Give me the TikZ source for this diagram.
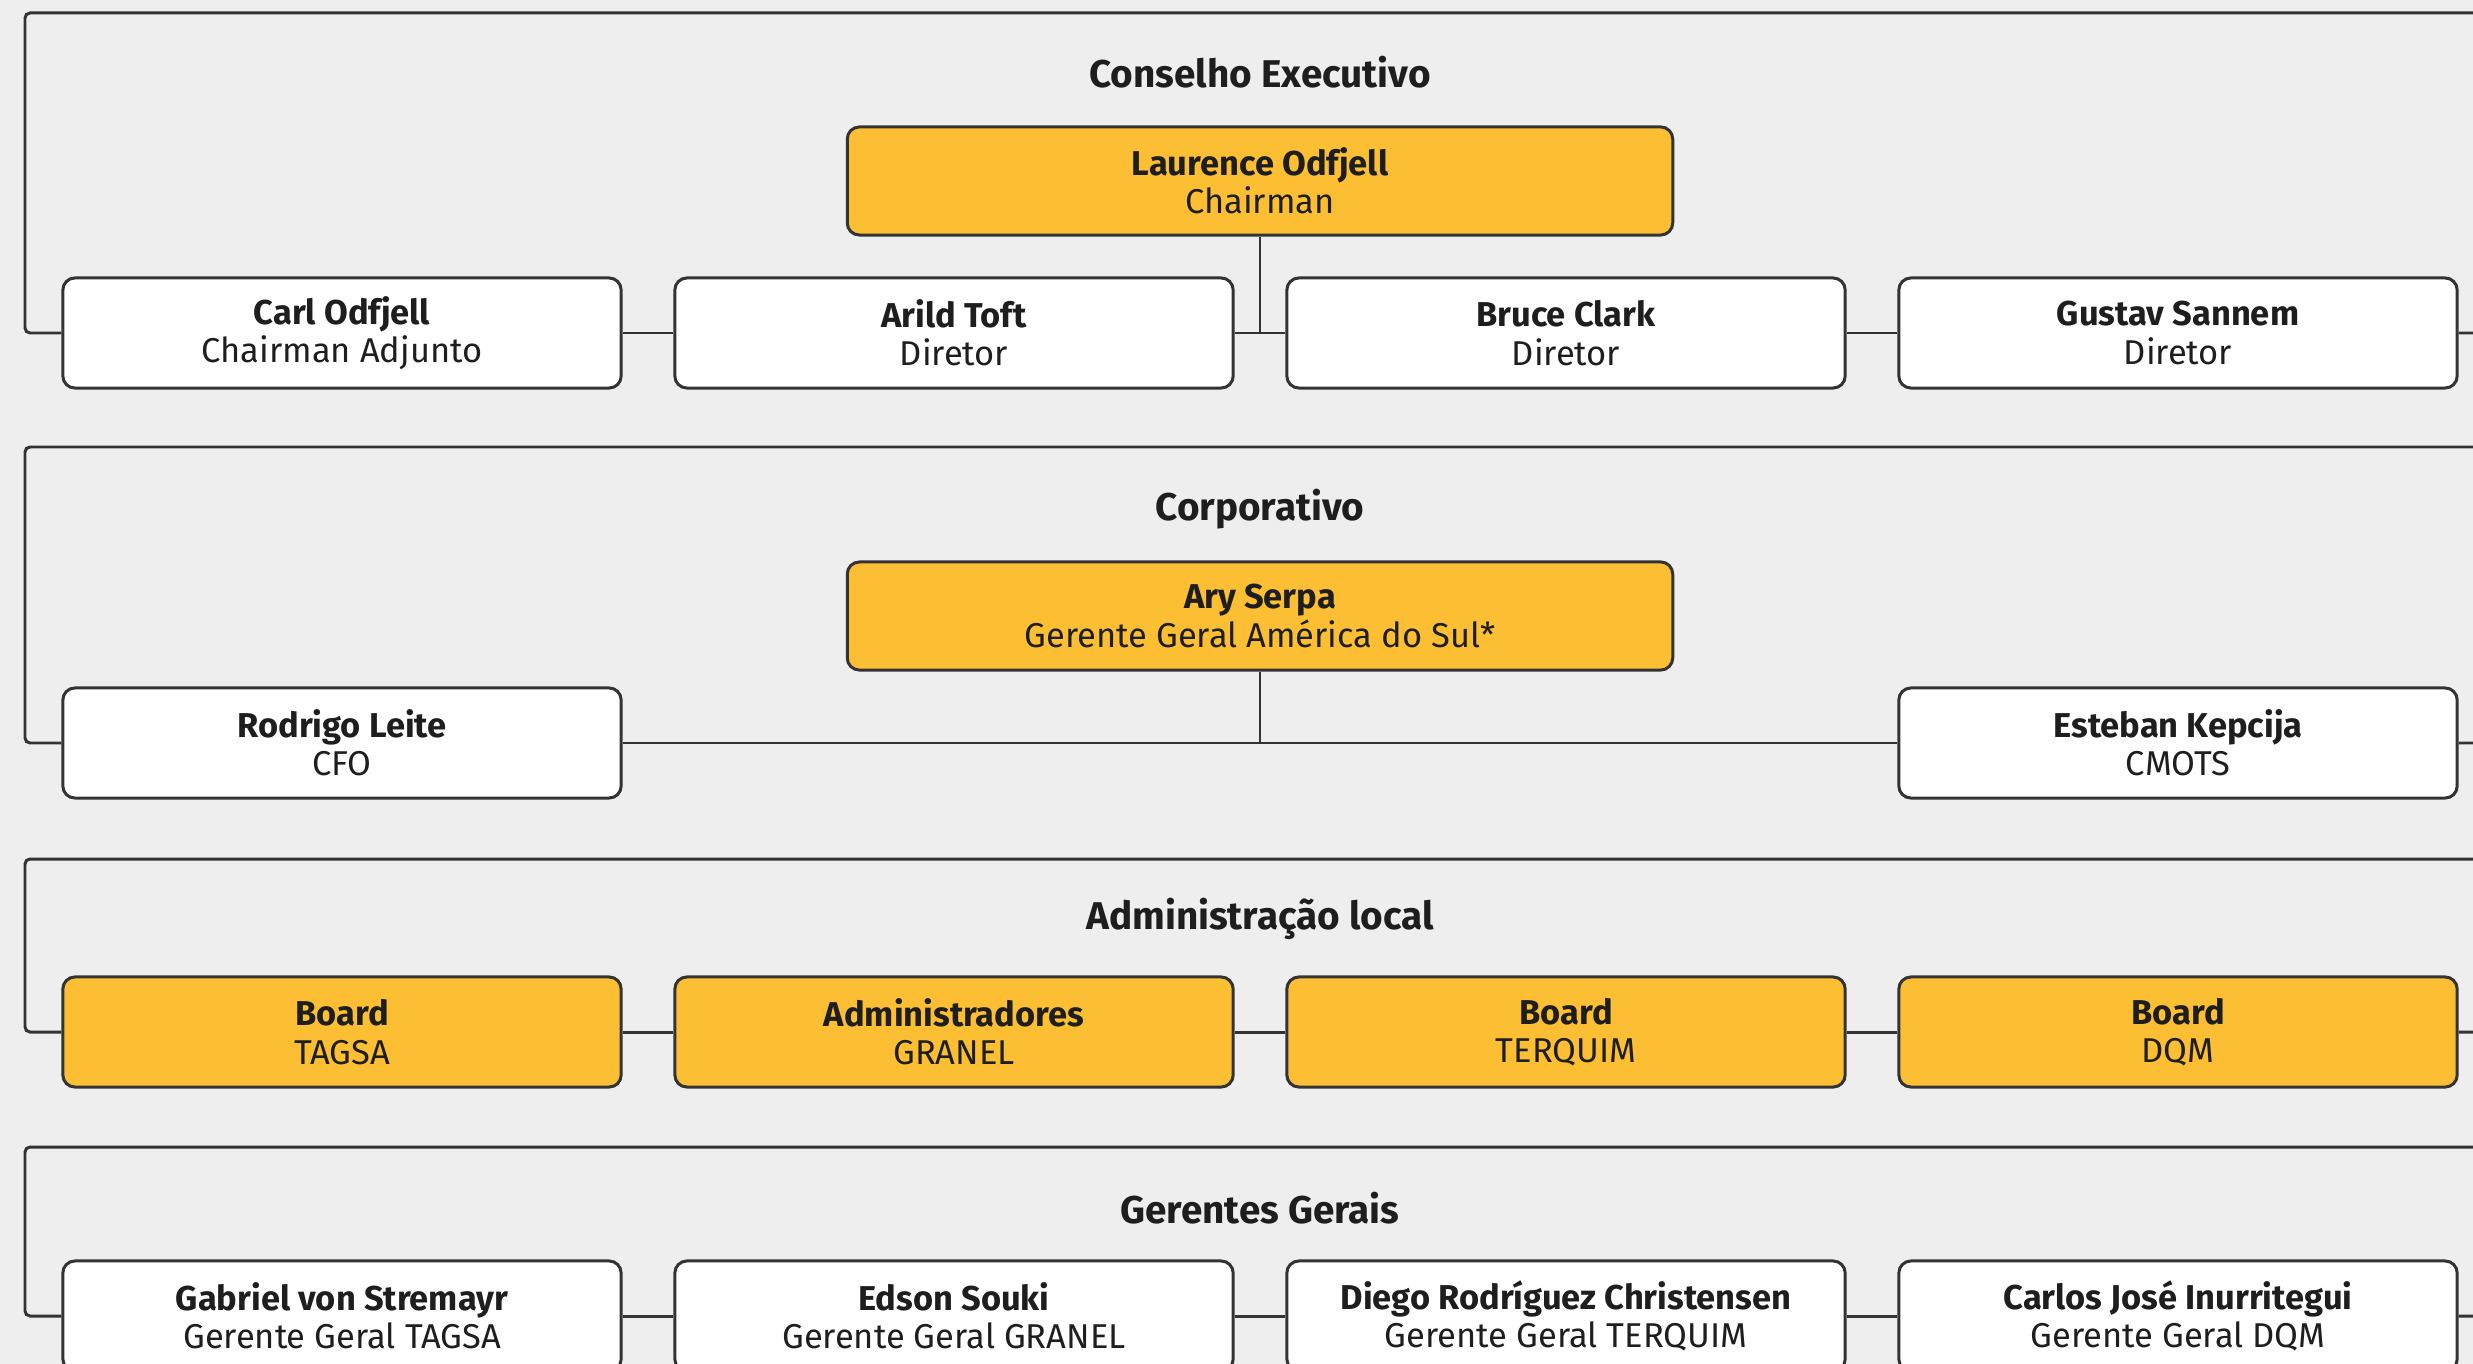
\documentclass[tikz,border=0pt]{standalone}
\usepackage{fontspec}
\setmainfont{Fira Sans}
\definecolor{paper}{HTML}{EEEEEE}
\definecolor{gold}{HTML}{FCBF33}
\definecolor{linec}{HTML}{333333}
\definecolor{ink}{HTML}{1E1E1E}
\newcommand\cardfont{\fontsize{9.8}{10.9}\selectfont}
\newcommand\headfont{\fontsize{11}{12}\selectfont\bfseries}
\begin{document}
\begin{tikzpicture}[x=0.01cm,y=-0.01cm,
  frame/.style={draw=linec, line width=0.85pt, rounded corners=0.05cm},
  link/.style={draw=linec, line width=0.85pt},
  drop/.style={draw=linec, line width=0.6pt},
  card/.style={draw=linec, line width=0.85pt, rounded corners=0.12cm, fill=white,
    minimum width=5.58cm, minimum height=1.10cm, inner sep=0pt, align=center,
    text=ink, font=\cardfont},
  lead/.style={card, fill=gold, minimum width=8.25cm, minimum height=1.08cm},
  goldcard/.style={card, fill=gold},
  heading/.style={font=\headfont, text=ink, inner sep=0pt}
]
\useasboundingbox (0,0) rectangle (2473,1364);
\fill[paper] (0,0) rectangle (2473,1364);
\clip (0,0) rectangle (2473,1364);

% ---------- Conselho Executivo ----------
\coordinate (f1l) at (25,13);
\coordinate (f1r) at (2495,13);
\node[heading] (t1) at (1260,72) {Conselho Executivo};
\node[lead] (laurence) at (1260,181) {\textbf{Laurence Odfjell}\\Chairman};
\node[card] (carl)   at (342,333)  {\textbf{Carl Odfjell}\\Chairman Adjunto};
\node[card] (arild)  at (954,333)  {\textbf{Arild Toft}\\Diretor};
\node[card] (bruce)  at (1566,333) {\textbf{Bruce Clark}\\Diretor};
\node[card] (gustav) at (2178,333) {\textbf{Gustav Sannem}\\Diretor};
\draw[frame] (carl.west) -- (carl.west -| f1l) -- (f1l) -- (f1r) -- (f1r |- gustav.east) -- (gustav.east);
\draw[link] (carl.east) -- (arild.west);
\draw[link] (arild.east) -- (bruce.west);
\draw[link] (bruce.east) -- (gustav.west);
\draw[drop] (laurence.south) -- (laurence.south |- bruce.west);

% ---------- Corporativo ----------
\coordinate (f2l) at (25,447);
\coordinate (f2r) at (2495,447);
\node[heading] (t2) at (1260,509) {Corporativo};
\node[lead] (ary) at (1260,616) {\textbf{Ary Serpa}\\Gerente Geral América do Sul*};
\node[card] (rodrigo) at (342,743)  {\textbf{Rodrigo Leite}\\CFO};
\node[card] (esteban) at (2178,743) {\textbf{Esteban Kepcija}\\CMOTS};
\draw[frame] (rodrigo.west) -- (rodrigo.west -| f2l) -- (f2l) -- (f2r) -- (f2r |- esteban.east) -- (esteban.east);
\draw[link] (rodrigo.east) -- (esteban.west);
\draw[drop] (ary.south) -- (ary.south |- rodrigo.east);

% ---------- Administração local ----------
\coordinate (f3l) at (25,859);
\coordinate (f3r) at (2495,859);
\node[heading] (t3) at (1260,919) {Administração local};
\node[goldcard] (btagsa)  at (342,1032)  {\textbf{Board}\\TAGSA};
\node[goldcard] (agranel) at (954,1032)  {\textbf{Administradores}\\GRANEL};
\node[goldcard] (bterq)   at (1566,1032) {\textbf{Board}\\TERQUIM};
\node[goldcard] (bdqm)    at (2178,1032) {\textbf{Board}\\DQM};
\draw[frame] (btagsa.west) -- (btagsa.west -| f3l) -- (f3l) -- (f3r) -- (f3r |- bdqm.east) -- (bdqm.east);
\draw[link] (btagsa.east) -- (agranel.west);
\draw[link] (agranel.east) -- (bterq.west);
\draw[link] (bterq.east) -- (bdqm.west);

% ---------- Gerentes Gerais ----------
\coordinate (f4l) at (25,1147);
\coordinate (f4r) at (2495,1147);
\node[heading] (t4) at (1260,1208) {Gerentes Gerais};
\node[card] (gabriel) at (342,1316)  {\textbf{Gabriel von Stremayr}\\Gerente Geral TAGSA};
\node[card] (edson)   at (954,1316)  {\textbf{Edson Souki}\\Gerente Geral GRANEL};
\node[card] (diego)   at (1566,1316) {\textbf{Diego Rodríguez Christensen}\\Gerente Geral TERQUIM};
\node[card] (carlos)  at (2178,1316) {\textbf{Carlos José Inurritegui}\\Gerente Geral DQM};
\draw[frame] (gabriel.west) -- (gabriel.west -| f4l) -- (f4l) -- (f4r) -- (f4r |- carlos.east) -- (carlos.east);
\draw[link] (gabriel.east) -- (edson.west);
\draw[link] (edson.east) -- (diego.west);
\draw[link] (diego.east) -- (carlos.west);
\end{tikzpicture}
\end{document}
